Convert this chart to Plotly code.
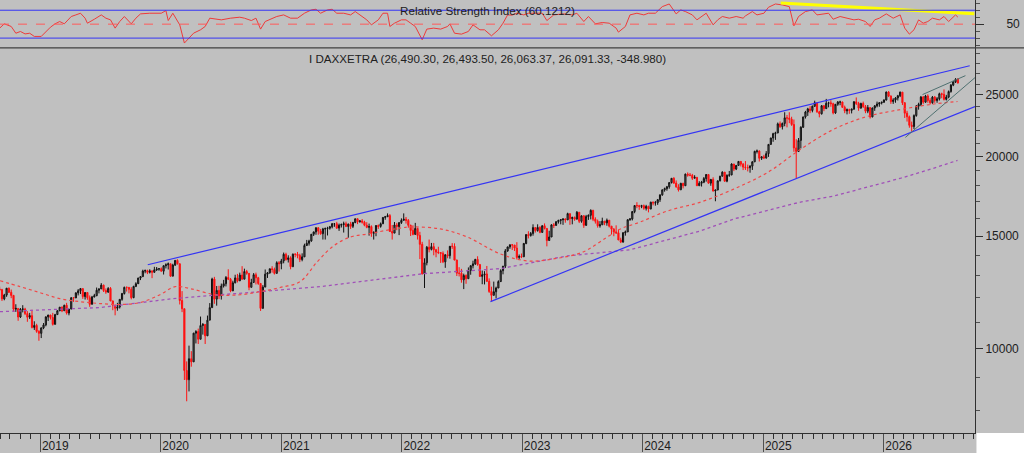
import pandas as pd
import plotly.graph_objects as go

# weekly DAX bars, first bar = week ending 2018-08-31, one line per year
first_open = 12394
closes = [
    12364, 11960, 12124, 12431, 12247, 12111, 11524, 11554, 11201, 11519, 11529, 11341, 11193, 11257, 10788, 10866, 10634, 10559,
    10768, 10887, 11205, 11282, 11181, 10907, 11299, 11457, 11602, 11458, 11686, 11364, 11526, 12010, 11999, 12222, 12315, 12413, 12060, 12239, 12011, 11727, 12045, 12096, 12340, 12399, 12569, 12323, 12260, 12419, 11872, 11694, 11563, 11612, 11939, 12192, 12469, 12468, 12381, 12013, 12512, 12634, 12895, 12961, 13229, 13242, 13164, 13236, 13167, 13283, 13319, 13337,
    13219, 13483, 13526, 13577, 12982, 13514, 13745, 13579, 11890, 11542, 9232, 8929, 9633, 9525, 10565, 10626, 10336, 10862, 10904, 10465, 11074, 11587, 12848, 11949, 12331, 12089, 12528, 12633, 12920, 12838, 12313, 12675, 12901, 12765, 13033, 12843, 13202, 13116, 12469, 12689, 13051, 12909, 12646, 11556, 12480, 13076, 13137, 13335, 13298, 13114, 13631, 13587,
    13719, 14050, 13788, 13874, 13433, 14057, 14050, 13993, 13786, 13921, 14502, 14621, 14749, 15107, 15234, 15460, 15280, 15136, 15400, 15417, 15438, 15520, 15693, 15693, 15448, 15608, 15650, 15688, 15540, 15669, 15544, 15761, 15977, 15808, 15852, 15781, 15609, 15490, 15532, 15156, 15206, 15587, 15543, 15688, 16054, 16094, 16160, 15257, 15170, 15623, 15532, 15756, 15885,
    15948, 15883, 15603, 15318, 15099, 15425, 15042, 14567, 13094, 13628, 14413, 14306, 14446, 14284, 14164, 14142, 14098, 13674, 14027, 13982, 14462, 14460, 13762, 13126, 13118, 12813, 13015, 12865, 13254, 13484, 13573, 13795, 13544, 12971, 13050, 13088, 12741, 12284, 12114, 12273, 12438, 12731, 13243, 13460, 14224, 14431, 14541, 14529, 14371, 13893, 13941, 13924,
    14610, 15087, 15034, 15150, 15476, 15308, 15482, 15210, 15578, 15427, 14768, 14957, 15629, 15598, 15808, 15882, 15922, 15961, 15914, 16275, 15984, 16051, 15950, 16358, 15830, 16148, 15603, 16105, 16177, 16469, 15952, 15832, 15574, 15632, 15840, 15740, 15894, 15557, 15387, 15230, 15187, 14798, 14688, 15189, 15234, 15919, 15967, 16397, 16759, 16751, 16706, 16752,
    16594, 16705, 16555, 16961, 16918, 16927, 17117, 17419, 17735, 17815, 17936, 18206, 18492, 18175, 17930, 17737, 18161, 18002, 18773, 18704, 18693, 18498, 18557, 18002, 18164, 18235, 18475, 18748, 18171, 18418, 17661, 17723, 18322, 18633, 18907, 18302, 18699, 18720, 19474, 19121, 19374, 19657, 19464, 19255, 19215, 19211, 19323, 19626, 20385, 20406, 19885, 19984,
    19906, 20215, 20903, 21394, 21732, 21787, 22513, 22287, 22551, 23009, 22987, 22892, 22461, 20642, 20374, 21206, 22242, 23087, 23499, 23767, 23630, 23997, 24304, 23516, 23351, 24033, 23787, 24255, 24290, 24218, 23426, 24163, 24359, 24363, 23902, 23597, 23698, 23640, 23740, 24380, 24240, 23830, 24240, 23960, 23570, 23880, 23090, 23840, 24030, 24190, 24290, 24340,
    24540, 25260, 24900, 24400, 24550, 24720, 24920, 25250, 24300, 23400, 23100, 22400, 22300, 23200, 24000, 24150, 24800, 24350, 24900, 24500, 24300, 24800, 24500, 24650, 25100, 25050, 24600, 24800, 25300, 25900, 26200, 26440.31, 26091.33,
]
highs = [
    12500, 12400, 12180, 12440, 12460, 12370, 12130, 11730, 11530, 11570, 11690, 11580, 11440, 11370, 11500, 11030, 10930, 10680,
    10790, 10960, 11230, 11290, 11290, 11370, 11330, 11480, 11620, 11640, 11710, 11790, 11530, 12030, 12040, 12250, 12390, 12440, 12350, 12250, 12230, 12110, 12090, 12180, 12460, 12420, 12660, 12590, 12420, 12480, 12480, 11880, 11710, 11790, 11950, 12220, 12500, 12500, 12440, 12480, 12540, 12700, 12910, 12990, 13290, 13300, 13290, 13310, 13190, 13430, 13420, 13360,
    13400, 13490, 13600, 13640, 13440, 13580, 13760, 13800, 13540, 12300, 11340, 9540, 10100, 9900, 10580, 10680, 10740, 11220, 10960, 10880, 11260, 11780, 12910, 12950, 12530, 12540, 12640, 12810, 12990, 13310, 12900, 12770, 13050, 13090, 13150, 13460, 13340, 13280, 13110, 12860, 13130, 13150, 12950, 12630, 12570, 13300, 13180, 13340, 13460, 13390, 13700, 13710,
    13820, 14140, 14130, 14000, 13950, 14090, 14100, 14170, 14080, 14100, 14600, 14800, 14810, 15120, 15250, 15500, 15500, 15400, 15460, 15480, 15520, 15570, 15730, 15730, 15800, 15700, 15700, 15810, 15810, 15700, 15800, 15800, 15980, 15990, 15900, 15960, 15860, 15780, 15700, 15600, 15270, 15620, 15650, 15760, 16070, 16140, 16290, 16250, 15620, 15790, 15740, 15780, 16000,
    16290, 16080, 15960, 15640, 15600, 15740, 15470, 15240, 14700, 13850, 14480, 14820, 14640, 14640, 14330, 14440, 14140, 14200, 14050, 14250, 14480, 14630, 14620, 13780, 13410, 13330, 13100, 13070, 13400, 13500, 13730, 13820, 13950, 13320, 13250, 13220, 13470, 12880, 12500, 12730, 12500, 12790, 13310, 13470, 14320, 14440, 14560, 14580, 14440, 14680, 14040, 14090,
    14640, 15110, 15270, 15230, 15660, 15480, 15660, 15550, 15600, 15710, 15390, 15300, 15660, 15730, 15830, 15920, 15950, 16000, 16000, 16330, 16220, 16100, 16110, 16430, 16330, 16170, 16180, 16200, 16230, 16530, 16500, 16060, 15930, 15840, 16040, 15820, 15990, 15850, 15530, 15450, 15600, 15360, 14920, 15220, 15310, 15950, 16010, 16430, 16770, 16960, 16800, 16800,
    16820, 16800, 16750, 16990, 17010, 17040, 17160, 17440, 17760, 17880, 17990, 18240, 18500, 18570, 18350, 18100, 18190, 18190, 18810, 18890, 18850, 18790, 18700, 18550, 18300, 18320, 18580, 18780, 18750, 18450, 18560, 17750, 18350, 18660, 18970, 18920, 18750, 18990, 19520, 19470, 19400, 19680, 19670, 19540, 19680, 19430, 19390, 19670, 20430, 20520, 20460, 20020,
    20130, 20400, 20930, 21410, 21800, 21880, 22620, 22710, 22620, 23480, 23250, 23480, 23100, 22870, 21300, 21390, 22320, 23100, 23600, 23860, 24000, 24050, 24480, 24300, 23600, 24100, 24100, 24640, 24390, 24520, 24300, 24180, 24450, 24480, 24400, 24050, 23800, 23780, 23800, 24450, 24770, 24380, 24300, 24400, 24100, 24100, 23700, 23880, 24100, 24400, 24350, 24400,
    24600, 25300, 25350, 24950, 24700, 24800, 25000, 25300, 25250, 24350, 23600, 23200, 22700, 23300, 24100, 24300, 24900, 24900, 25000, 25050, 24700, 24900, 24900, 24800, 25200, 25200, 25500, 25000, 25400, 26000, 26300, 26560, 26493.50,
]
lows = [
    12300, 11870, 11900, 12050, 12220, 11990, 11420, 11410, 11050, 11160, 11390, 11280, 11010, 11120, 10750, 10690, 10580, 10280,
    10380, 10720, 10830, 11040, 11100, 10860, 10940, 11290, 11440, 11400, 11480, 11300, 11270, 11560, 11830, 12000, 12110, 12170, 11960, 11930, 11920, 11620, 11740, 12020, 12080, 12200, 12450, 12260, 12180, 12220, 11860, 11480, 11270, 11460, 11550, 11880, 12150, 12280, 12200, 11940, 11990, 12480, 12620, 12800, 13000, 13120, 13080, 13110, 12890, 13140, 13230, 13240,
    13200, 13060, 13350, 13300, 12950, 12990, 13470, 13540, 11720, 11400, 8920, 8260, 8560, 9360, 9580, 10180, 10160, 10380, 10510, 10160, 10480, 11080, 11600, 11750, 11670, 11950, 11930, 12460, 12510, 12800, 12250, 12300, 12650, 12690, 12760, 12820, 12850, 13050, 12340, 12520, 12710, 12600, 12580, 11450, 11620, 12520, 12900, 13100, 13150, 13060, 13170, 13200,
    13310, 13600, 13730, 13640, 13310, 13490, 13900, 13850, 13660, 13700, 13940, 14480, 14500, 14700, 15010, 15080, 15080, 15080, 14820, 14820, 15040, 15360, 15430, 15520, 15400, 15290, 15480, 15200, 15500, 14920, 15400, 15450, 15720, 15670, 15750, 15700, 15550, 15440, 15030, 14970, 14820, 15000, 15400, 15470, 15700, 15920, 16080, 15240, 14820, 15200, 15330, 15060, 15680,
    15880, 15700, 15470, 15010, 15050, 15130, 14820, 13810, 13060, 12440, 13500, 14150, 14250, 14000, 13900, 14060, 13620, 13610, 13380, 13850, 13830, 14330, 13750, 12990, 12970, 12680, 12390, 12630, 12900, 13050, 13350, 13520, 13480, 12950, 12610, 12600, 12720, 12220, 11860, 12110, 11980, 12480, 12720, 13070, 13370, 14180, 14330, 14270, 14220, 13790, 13790, 13860,
    13980, 14570, 14880, 14980, 15030, 15200, 15250, 15160, 15180, 15370, 14460, 14800, 14960, 15450, 15580, 15700, 15660, 15630, 15750, 15900, 15630, 15660, 15860, 15950, 15730, 15750, 15460, 15570, 15910, 15940, 15840, 15700, 15470, 15470, 15640, 15610, 15580, 15480, 15090, 15000, 15120, 14790, 14630, 14650, 15030, 15250, 15860, 15880, 16300, 16600, 16500, 16600,
    16500, 16460, 16350, 16530, 16770, 16750, 16800, 16980, 17360, 17620, 17680, 17810, 18150, 18120, 17870, 17630, 17760, 17830, 18060, 18600, 18630, 18380, 18480, 17990, 18020, 17950, 18170, 18270, 18140, 18000, 17630, 17020, 17750, 18290, 18620, 18260, 18230, 18590, 18700, 18980, 19050, 19380, 19300, 19050, 19060, 18960, 18870, 19060, 19610, 20230, 19650, 19760,
    19820, 19850, 19980, 20880, 21100, 21250, 21770, 22190, 22060, 22320, 22230, 22570, 22350, 20350, 18490, 20390, 20600, 22180, 22950, 23170, 23400, 23470, 23930, 23430, 23050, 23280, 23570, 23780, 23900, 23950, 23300, 23340, 24030, 24080, 23850, 23400, 23300, 23350, 23380, 23700, 24100, 23600, 23800, 23850, 23400, 23400, 22950, 23050, 23600, 23900, 23950, 24150,
    24300, 24500, 24800, 24200, 24200, 24300, 24500, 24800, 24100, 23000, 22700, 22200, 21900, 22100, 23100, 23700, 24000, 24200, 24300, 24300, 24150, 24200, 24300, 24300, 24500, 24700, 24500, 24500, 24700, 25200, 25800, 26100, 26063.37,
]
last_bar = (26490.30, 26493.50, 26063.37, 26091.33)
last_change = -348.980

# moving averages
ma_red_dates = ["2018-09-01", "2018-11-01", "2019-01-01", "2019-03-01", "2019-05-01", "2019-07-01", "2019-08-30", "2019-10-30", "2019-12-30", "2020-02-14",
                "2020-03-31", "2020-06-15", "2020-08-29", "2020-10-29", "2020-12-28", "2021-02-27", "2021-04-20", "2021-06-08", "2021-07-30", "2021-09-19",
                "2021-11-06", "2021-12-28", "2022-01-27", "2022-04-28", "2022-07-18", "2022-10-27", "2023-01-17", "2023-04-06", "2023-07-05", "2023-09-16",
                "2023-10-26", "2023-12-25", "2024-03-16", "2024-06-25", "2024-10-03", "2025-01-15", "2025-04-24", "2025-08-02", "2025-11-13", "2026-02-22",
                "2026-05-23", "2026-08-13"]
ma_red_values = [12770, 12500, 12230, 11970, 11840, 11760, 11720, 11800, 12140, 12500,
                 12410, 12140, 12140, 12280, 12460, 12730, 13680, 14480, 14960, 15120,
                 15290, 15450, 15510, 15400, 14960, 14070, 13720, 13820, 14170, 14960,
                 15400, 15790, 16430, 16970, 17780, 18900, 20540, 22070, 23130, 23710,
                 24150, 24410]
ma_purple_dates = ["2018-09-01", "2019-07-01", "2020-02-08", "2020-06-09", "2020-10-29", "2021-04-29", "2022-03-08", "2022-10-27", "2023-05-18", "2023-11-24",
                   "2024-06-25", "2024-10-03", "2025-01-15", "2025-04-24", "2025-08-02", "2025-11-13", "2026-02-22", "2026-05-23", "2026-08-13"]
ma_purple_values = [11420, 11590, 11970, 12100, 12280, 12500, 13100, 13340, 13970, 14280,
                    15290, 15960, 16490, 16970, 17340, 17910, 18500, 19110, 19730]

# trend lines (start/end date, price)
upper_line_dates = ["2019-11-23", "2026-09-19"]
upper_line_values = [13530, 27780]
lower_line_dates = ["2022-09-27", "2026-10-05"]
lower_line_values = [11840, 23970]
wedge_low_dates = ["2026-03-08", "2026-10-05"]
wedge_low_values = [21440, 26610]
wedge_high_dates = ["2026-04-29", "2026-09-06"]
wedge_high_values = [25030, 26800]

# RSI, sampled at week numbers (0 = first bar)
rsi_week = [0, 2, 5, 7, 9, 11, 13, 15, 18, 20, 22, 24, 26, 28, 31, 33, 35, 37, 38, 41, 44, 46, 48, 50, 52, 54, 57, 59, 61, 65,
            70, 72, 73, 75, 78, 80, 82, 84, 87, 89, 91, 96, 100, 104, 106, 109, 111, 113, 115, 117, 120, 123, 126, 129, 132, 135, 137, 139, 142, 144,
            146, 149, 152, 154, 156, 159, 161, 164, 166, 168, 169, 171, 174, 176, 178, 180, 183, 185, 188, 191, 194, 195, 197, 200, 203, 205, 208, 210, 213, 216,
            218, 220, 222, 224, 227, 229, 231, 235, 237, 240, 244, 248, 250, 253, 255, 258, 261, 264, 267, 268, 271, 273, 276, 279, 281, 284, 287, 290, 293, 295,
            297, 300, 302, 305, 306, 309, 311, 313, 316, 319, 322, 323, 326, 328, 331, 333, 336, 339, 342, 344, 346, 349, 352, 354, 357, 359, 361, 364, 367, 370,
            372, 375, 377, 379, 381, 384, 387, 390, 392, 394, 396, 398, 400, 402, 404, 407, 409, 411, 414, 415]
rsi_value = [44.3, 50.5, 46.7, 37.0, 39.5, 36.0, 37.0, 32.4, 32.4, 39.5, 45.7, 50.5, 53.8, 50.5, 61.0, 63.3, 65.7, 58.6, 51.4, 57.1, 63.3, 58.6, 56.2, 44.3, 53.8, 61.0, 50.5, 58.6, 64.8, 65.7,
             65.7, 69.5, 55.2, 65.7, 49.0, 22.9, 30.0, 37.1, 41.9, 46.7, 58.6, 56.2, 58.6, 60.0, 58.6, 55.2, 58.6, 42.9, 53.8, 57.1, 61.0, 63.3, 58.6, 58.6, 65.7, 70.5, 71.4, 65.7, 70.5, 71.4,
             65.7, 65.7, 63.3, 68.1, 63.3, 56.2, 49.0, 56.2, 65.7, 65.7, 46.7, 51.4, 56.2, 56.2, 51.4, 46.7, 27.6, 42.9, 44.3, 42.9, 46.7, 50.5, 37.0, 35.7, 39.5, 49.0, 41.9, 41.9, 33.3, 41.9,
             51.4, 63.3, 63.0, 65.7, 63.3, 65.7, 65.7, 65.7, 55.2, 63.3, 64.8, 63.3, 65.7, 53.8, 61.0, 50.5, 52.4, 51.4, 44.3, 38.6, 46.7, 63.3, 65.7, 63.3, 65.7, 65.7, 75.2, 79.0, 64.8, 70.5,
             68.1, 63.3, 56.2, 63.3, 65.7, 49.0, 56.2, 61.0, 58.6, 61.0, 58.6, 61.9, 68.1, 63.3, 65.7, 74.3, 79.0, 77.6, 75.2, 47.6, 61.0, 68.1, 70.5, 63.3, 64.8, 65.7, 57.1, 61.0, 58.6, 56.2,
             57.1, 53.8, 46.7, 56.2, 58.6, 64.8, 58.6, 63.3, 44.3, 35.7, 41.9, 56.2, 51.4, 53.8, 58.6, 56.2, 61.0, 53.8, 63.3, 60.1212]
rsi_trend_dates = ["2025-02-23", "2026-10-03"]
rsi_trend_values = [80.4, 65.1]

year_ticks = ["2019-01-01", "2020-01-01", "2021-01-01", "2022-01-01", "2023-01-01", "2024-01-01", "2025-01-01", "2026-01-01"]
year_labels = ["2019", "2020", "2021", "2022", "2023", "2024", "2025", "2026"]
price_ticks = [10000, 15000, 20000, 25000]
price_minor = [8000, 9000, 11000, 12000, 13000, 14000, 16000, 17000, 18000, 19000, 21000, 22000, 23000, 24000, 26000, 27000, 28000, 29000]

dates = pd.date_range("2018-08-31", periods=len(closes), freq="W-FRI")
opens = [first_open] + closes[:-1]
opens[-1] = last_bar[0]
highs = [max(h, o, c) for h, o, c in zip(highs, opens, closes)]
lows = [min(l, o, c) for l, o, c in zip(lows, opens, closes)]

FONT = "Liberation Sans, Arial, sans-serif"
BLUE = "#3434f4"
split = 387 / 435  # RSI pane sits above this

fig = go.Figure()

fig.add_trace(go.Scatter(x=ma_purple_dates, y=ma_purple_values, mode="lines",
                         line=dict(color="#a050b8", width=1.3, dash="dot"), hoverinfo="skip"))
fig.add_trace(go.Scatter(x=ma_red_dates, y=ma_red_values, mode="lines", line_shape="spline",
                         line=dict(color="#f04848", width=1.2, dash="dot"), hoverinfo="skip"))
fig.add_trace(go.Candlestick(
    x=dates, open=opens, high=highs, low=lows, close=closes,
    increasing=dict(line=dict(color="#101010", width=1), fillcolor="#6e6e6e"),
    decreasing=dict(line=dict(color="#ff1010", width=1), fillcolor="#ff1010"),
))
for xs, ys, col, w in [(upper_line_dates, upper_line_values, BLUE, 1.2),
                       (lower_line_dates, lower_line_values, BLUE, 1.2),
                       (wedge_low_dates, wedge_low_values, "#4f7070", 1),
                       (wedge_high_dates, wedge_high_values, "#4f7070", 1)]:
    fig.add_trace(go.Scatter(x=xs, y=ys, mode="lines", line=dict(color=col, width=w), hoverinfo="skip"))

# RSI pane
fig.add_trace(go.Scatter(x=dates[rsi_week], y=rsi_value, mode="lines", xaxis="x2", yaxis="y2",
                         line=dict(color="#ee3a3a", width=1), hoverinfo="skip"))
fig.add_trace(go.Scatter(x=rsi_trend_dates, y=rsi_trend_values, mode="lines", xaxis="x2", yaxis="y2",
                         line=dict(color="#ffff00", width=3), hoverinfo="skip"))

shapes = [
    dict(type="line", xref="paper", x0=0, x1=1, yref="y2", y0=70, y1=70, line=dict(color=BLUE, width=1)),
    dict(type="line", xref="paper", x0=0, x1=1, yref="y2", y0=30, y1=30, line=dict(color=BLUE, width=1)),
    dict(type="line", xref="paper", x0=0, x1=1, yref="y2", y0=50, y1=50, line=dict(color="#ff5a5a", width=1, dash="dash")),
    dict(type="line", xref="paper", x0=0, x1=1.06, yref="paper", y0=split, y1=split, line=dict(color="#404040", width=1.3)),
    dict(type="rect", xref="paper", x0=1.0015, x1=1.06, yref="paper", y0=-0.06, y1=0,
         fillcolor="white", line=dict(width=0), layer="below"),
]

o, h, l, c = last_bar
annotations = [
    dict(text=f"Relative Strength Index ({rsi_value[-1]:.4f})", xref="paper", yref="paper", x=0.5, y=(435 - 11) / 435,
         showarrow=False, font=dict(family=FONT, size=11.7, color="#202020"), yanchor="middle"),
    dict(text=f"I DAXXETRA ({o:,.2f}, {h:,.2f}, {l:,.2f}, {c:,.2f}, {last_change:.3f})", xref="paper", yref="paper",
         x=0.5, y=(435 - 59) / 435, showarrow=False, font=dict(family=FONT, size=11.6, color="#202020"), yanchor="middle"),
]

fig.update_layout(
    width=1024, height=453, autosize=False,
    margin=dict(l=0, r=49, t=0, b=18),
    paper_bgcolor="#c0c0c0", plot_bgcolor="#c0c0c0",
    showlegend=False,
    font=dict(family=FONT, size=12, color="#202020"),
    shapes=shapes, annotations=annotations,
    xaxis=dict(
        domain=[0, 1], anchor="y", type="date", range=["2018-09-01", "2026-10-05"],
        tickmode="array", tickvals=year_ticks, ticktext=year_labels,
        ticks="outside", ticklen=18, tickwidth=1, tickcolor="#505050",
        ticklabelshift=15, ticklabelstandoff=-16,
        minor=dict(dtick="M1", tick0="2019-01-01", ticks="outside", ticklen=5, tickcolor="#303030", showgrid=False),
        showline=True, linecolor="#303030", linewidth=1, showgrid=False, zeroline=False,
        rangeslider=dict(visible=False), tickfont=dict(size=12, color="#202020"),
    ),
    xaxis2=dict(domain=[0, 1], anchor="y2", type="date", range=["2018-09-01", "2026-10-05"],
                visible=False, showgrid=False),
    yaxis=dict(
        domain=[0, split], anchor="x", side="right", type="log", range=[3.86719, 4.47188],
        tickmode="array", tickvals=price_ticks, ticktext=[str(v) for v in price_ticks],
        ticks="outside", ticklen=7, tickcolor="#303030",
        minor=dict(tickvals=price_minor, ticks="outside", ticklen=4, tickcolor="#505050", showgrid=False),
        showline=True, linecolor="#303030", linewidth=1, showgrid=False, zeroline=False,
        tickfont=dict(size=12, color="#202020"),
    ),
    yaxis2=dict(
        domain=[split, 1], anchor="x2", side="right", range=[16.1, 84.7],
        tickmode="array", tickvals=[50], ticktext=["50"],
        ticks="outside", ticklen=8, tickcolor="#303030", ticklabelstandoff=20,
        minor=dict(tickvals=[20, 30, 40, 60, 70, 80], ticks="outside", ticklen=4, tickcolor="#505050", showgrid=False),
        showline=True, linecolor="#303030", linewidth=1, showgrid=False, zeroline=False,
        tickfont=dict(size=12, color="#202020"),
    ),
)

# the page's default body margin would push the 1024px figure off the window
fig.write_html("out.html", config={"displayModeBar": False},
               post_script="document.body.style.margin='0';document.body.style.overflow='hidden';")
